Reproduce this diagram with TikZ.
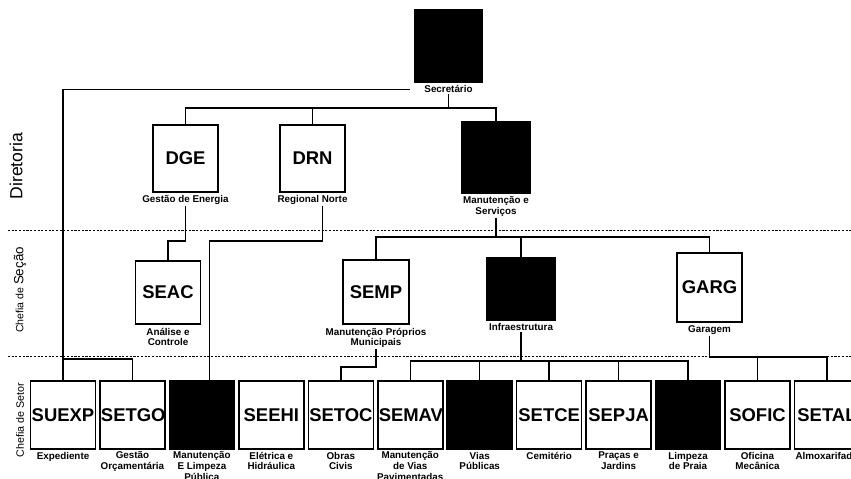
\documentclass[tikz,border=0pt]{standalone}
\usepackage{fontspec}
\setmainfont{Liberation Sans}
\usetikzlibrary{positioning}

\begin{document}
\begin{tikzpicture}[
  x=0.02cm, y=-0.02cm,
  unitbox/.style={rectangle, draw=black, fill=#1, line width=0.9pt,
                  minimum width=1.3cm, minimum height=1.34cm, inner sep=0.5pt,
                  text width=1.26cm, align=center,
                  font=\fontsize{10.5}{12}\selectfont\bfseries},
  unitbox/.default=white,
  desc/.style={align=center, inner sep=0.5pt,
               font=\fontsize{5.6}{6}\selectfont\bfseries},
  tier/.style={rotate=90, inner sep=0pt},
  wire/.style={line width=0.8pt},
  tierline/.style={line width=0.5pt, dash pattern=on 1.2pt off 0.9pt},
]
\useasboundingbox (0,0) rectangle (851,478);
\clip (0,0) rectangle (851,478);

% --- level separators and side labels
\draw[tierline] (8,230) -- (851,230);
\draw[tierline] (8,356) -- (851,356);
\node[tier, font=\fontsize{10}{12}\selectfont] (diretoria) at (16,166) {Diretoria};
\node[tier, font=\fontsize{6}{7}\selectfont] (secao) at (20,290)
  {Chefia de {\fontsize{7.6}{9}\selectfont Seção}};
\node[tier, font=\fontsize{6.1}{7}\selectfont] (setor) at (20,420) {Chefia de Setor};

% --- Secretário and Diretorias
\node[unitbox=black, minimum width=1.34cm, minimum height=1.44cm] (sec) at (448.5,46) {};
\node[desc, below=1pt of sec] (seccap) {Secretário};

\node[unitbox] (dge) at (185.5,158.5) {DGE};
\node[desc, below=1pt of dge] (dgecap) {Gestão de Energia};
\node[unitbox] (drn) at (312.5,158.5) {DRN};
\node[desc, below=1pt of drn] (drncap) {Regional Norte};
\node[unitbox=black, minimum width=1.36cm, minimum height=1.42cm] (mas) at (496,157.5) {};
\node[desc, below=1pt of mas] (mascap) {Manutenção e\\Serviços};

% --- Seções
\node[unitbox, minimum width=1.28cm, minimum height=1.26cm] (seac) at (168,292.5) {SEAC};
\node[desc, below=1pt of seac] (seaccap) {Análise e\\Controle};
\node[unitbox, minimum width=1.32cm, minimum height=1.28cm] (semp) at (376,292) {SEMP};
\node[desc, below=1pt of semp] (sempcap) {Manutenção Próprios\\Municipais};
\node[unitbox=black, minimum width=1.36cm, minimum height=1.24cm] (infra) at (521,289) {};
\node[desc, below=1pt of infra] (infracap) {Infraestrutura};
\node[unitbox, minimum height=1.38cm] (garg) at (709.5,287.5) {GARG};
\node[desc, below=1pt of garg] (gargcap) {Garagem};

% --- Setores (left to right, each box hides the overflow of the one before)
\foreach \unitname/\abbrev/\tone/\txt [count=\i from 0] in {
    suexp/SUEXP/white/Expediente,
    setgo/SETGO/white/{Gestão\\Orçamentária},
    mlp//black/{Manutenção\\E Limpeza\\Pública},
    seehi/SEEHI/white/{Elétrica e\\Hidráulica},
    setoc/SETOC/white/{Obras\\Civis},
    semav/SEMAV/white/{Manutenção\\de Vias\\Pavimentadas},
    vias//black/{Vias\\Públicas},
    setce/SETCE/white/Cemitério,
    sepja/SEPJA/white/{Praças e\\Jardins},
    limp//black/{Limpeza\\de Praia},
    sofic/SOFIC/white/{Oficina\\Mecânica},
    setal/SETAL/white/Almoxarifado} {
  \node[unitbox=\tone, minimum height=1.36cm] (\unitname) at ({63+69.45*\i},415) {\abbrev};
  \node[desc, below=0.5pt of \unitname] (cap-\unitname) {\txt};
}

% --- bus levels
\coordinate (bus0) at (0,108);
\coordinate (bus1) at (0,241);
\coordinate (bus2) at (0,237);
\coordinate (bus3) at (0,367);
\coordinate (bus4) at (0,361);
\coordinate (bus5) at (0,357);
\coordinate (bus6) at (0,359);
\coordinate (drnfoot) at ([xshift=0.2cm]drncap.south);
\coordinate (mlptop) at ([xshift=0.15cm]mlp.north);

% --- connectors
\draw[wire] (seccap.south) -- (seccap.south |- bus0);
\draw[wire] (dge.north) |- (mas.north |- bus0) -- (mas.north);
\draw[wire] (drn.north) -- (drn.north |- bus0);
\draw[wire] ([xshift=-0.26cm]seccap.west) -| (suexp.north);
\draw[wire] (suexp.north |- bus6) -| (setgo.north);

\draw[wire] (dgecap.south) |- (seac.north |- bus1) -- (seac.north);
\draw[wire] (drnfoot) |- (mlptop |- bus1) -- (mlptop);

\draw[wire] (mascap.south) -- (mascap.south |- bus2);
\draw[wire] (semp.north) |- (garg.north |- bus2) -- (garg.north);
\draw[wire] (infra.north) -- (infra.north |- bus2);

\draw[wire] (sempcap.south) |- (setoc.north |- bus3) -- (setoc.north);

\draw[wire] (infracap.south) -- (infracap.south |- bus4);
\draw[wire] (semav.north) |- (limp.north |- bus4) -- (limp.north);
\foreach \u in {vias, setce, sepja}
  \draw[wire] (\u.north) -- (\u.north |- bus4);

\draw[wire] (gargcap.south) |- (setal.north |- bus5) -- (setal.north);
\draw[wire] (sofic.north) -- (sofic.north |- bus5);

\end{tikzpicture}
\end{document}
